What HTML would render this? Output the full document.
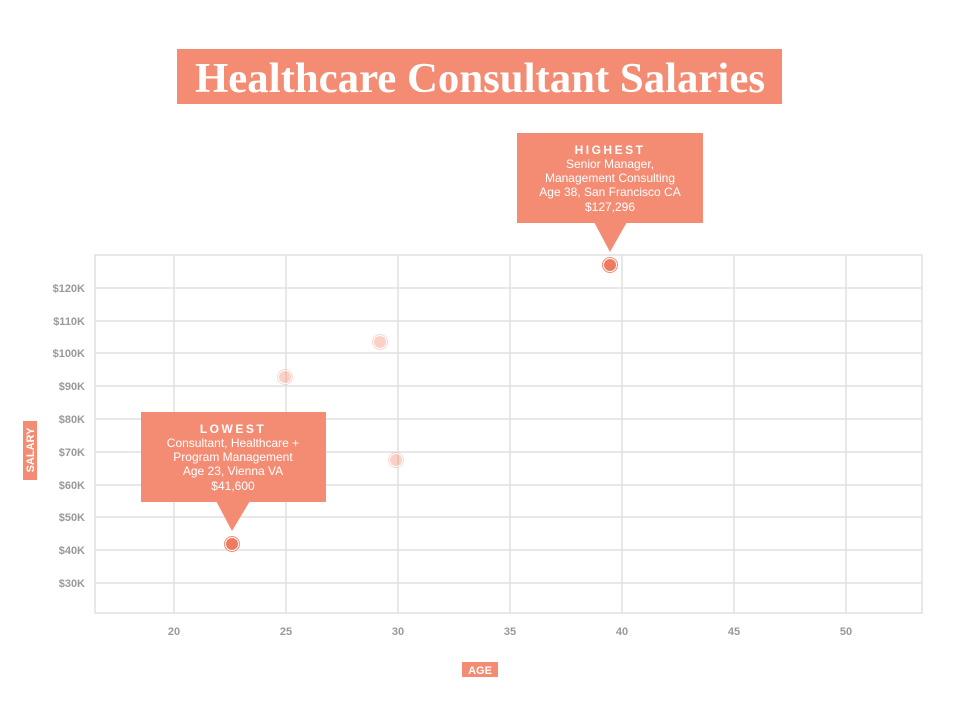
<!DOCTYPE html>
<html><head><style>
body{margin:0;background:#fff;}
svg{display:block;font-family:"Liberation Sans",sans-serif;}
</style></head><body>
<svg width="960" height="717" viewBox="0 0 960 717">
<rect x="177" y="49" width="605" height="55" fill="#F48C74"/>
<text x="480" y="92" text-anchor="middle" font-family="Liberation Serif" font-weight="bold" font-size="42" textLength="570" lengthAdjust="spacingAndGlyphs" fill="#fff">Healthcare Consultant Salaries</text>
<g stroke="#e0e0e0" stroke-width="1.5">
<rect x="95" y="255" width="827" height="358" fill="none"/>
<line x1="174" y1="255" x2="174" y2="613"/><line x1="286" y1="255" x2="286" y2="613"/>
<line x1="398" y1="255" x2="398" y2="613"/><line x1="510" y1="255" x2="510" y2="613"/>
<line x1="622" y1="255" x2="622" y2="613"/><line x1="734" y1="255" x2="734" y2="613"/>
<line x1="846" y1="255" x2="846" y2="613"/>
<line x1="95" y1="288" x2="922" y2="288"/><line x1="95" y1="321" x2="922" y2="321"/>
<line x1="95" y1="353" x2="922" y2="353"/><line x1="95" y1="386" x2="922" y2="386"/>
<line x1="95" y1="419" x2="922" y2="419"/><line x1="95" y1="452" x2="922" y2="452"/>
<line x1="95" y1="485" x2="922" y2="485"/><line x1="95" y1="517" x2="922" y2="517"/>
<line x1="95" y1="550" x2="922" y2="550"/><line x1="95" y1="583" x2="922" y2="583"/>
</g>
<g font-size="11" font-weight="bold" fill="#999" text-anchor="end">
<text x="85" y="292">$120K</text><text x="85" y="325">$110K</text><text x="85" y="357">$100K</text>
<text x="85" y="390">$90K</text><text x="85" y="423">$80K</text><text x="85" y="456">$70K</text>
<text x="85" y="489">$60K</text><text x="85" y="521">$50K</text><text x="85" y="554">$40K</text>
<text x="85" y="587">$30K</text>
</g>
<g font-size="11" font-weight="bold" fill="#999" text-anchor="middle">
<text x="174" y="635">20</text><text x="286" y="635">25</text><text x="398" y="635">30</text>
<text x="510" y="635">35</text><text x="622" y="635">40</text><text x="734" y="635">45</text><text x="846" y="635">50</text>
</g>
<rect x="23" y="421" width="14" height="59" fill="#F48C74"/>
<text transform="translate(34,450) rotate(-90)" text-anchor="middle" font-size="11" font-weight="bold" fill="#fff">SALARY</text>
<rect x="462" y="662" width="36" height="15" fill="#F48C74"/>
<text x="480" y="674" text-anchor="middle" font-size="11" font-weight="bold" fill="#fff">AGE</text>
<g fill="#F48C74" fill-opacity="0.4" stroke="#fff" stroke-width="1">
<circle cx="285" cy="377" r="6.5"/><circle cx="380" cy="342" r="6.5"/><circle cx="396" cy="460" r="6.5"/>
</g>
<g fill="none" stroke="#F48C74" stroke-opacity="0.35" stroke-width="1">
<circle cx="285" cy="377" r="7.5"/><circle cx="380" cy="342" r="7.5"/><circle cx="396" cy="460" r="7.5"/>
</g>
<g fill="#F07A60" stroke="#fff" stroke-width="1">
<circle cx="610" cy="265" r="6.5"/><circle cx="232" cy="544" r="6.5"/>
</g>
<circle cx="610" cy="265" r="7.5" fill="none" stroke="#F48C74" stroke-width="1"/>
<circle cx="232" cy="544" r="7.5" fill="none" stroke="#F48C74" stroke-width="1"/>
<g fill="#F48C74">
<rect x="517" y="133" width="186" height="90"/><polygon points="594,222 627,222 610,252"/>
<rect x="141" y="412" width="185" height="90"/><polygon points="216,501 250,501 232,531"/>
</g>
<g fill="#fff" text-anchor="middle" font-size="12">
<text x="610" y="154" font-weight="bold" letter-spacing="2.5">HIGHEST</text>
<text x="610" y="168">Senior Manager,</text>
<text x="610" y="182">Management Consulting</text>
<text x="610" y="196">Age 38, San Francisco CA</text>
<text x="610" y="211">$127,296</text>
<text x="233" y="433" font-weight="bold" letter-spacing="2.5">LOWEST</text>
<text x="233" y="447">Consultant, Healthcare +</text>
<text x="233" y="461">Program Management</text>
<text x="233" y="475">Age 23, Vienna VA</text>
<text x="233" y="490">$41,600</text>
</g>
</svg>
</body></html>
